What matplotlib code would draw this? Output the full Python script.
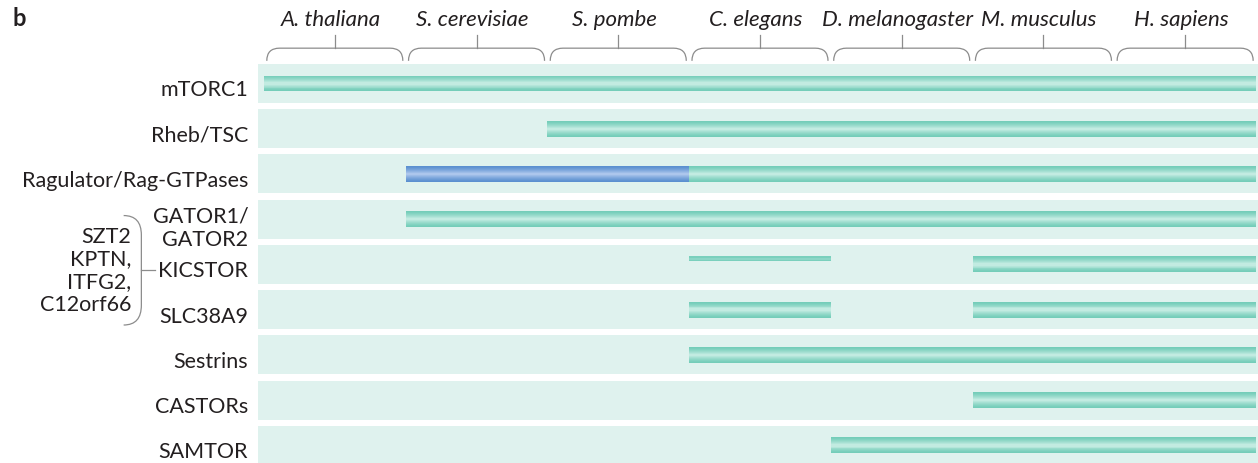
import matplotlib
matplotlib.use('Agg')
import matplotlib.pyplot as plt
import numpy as np
from matplotlib.colors import to_rgb
from matplotlib.path import Path
from matplotlib.patches import PathPatch
from matplotlib.transforms import ScaledTranslation

plt.rcParams['font.family'] = ['Lato', 'DejaVu Sans']

species = ['A. thaliana', 'S. cerevisiae', 'S. pombe', 'C. elegans',
           'D. melanogaster', 'M. musculus', 'H. sapiens']
rows = ['mTORC1', 'Rheb/TSC', 'Ragulator/Rag-GTPases', 'GATOR1/\nGATOR2',
        'KICSTOR', 'SLC38A9', 'Sestrins', 'CASTORs', 'SAMTOR']
# (first species index, last species index + 1, style) for each row
segments = [
    [(0, 7, 'teal')],
    [(2, 7, 'teal')],
    [(1, 3, 'blue'), (3, 7, 'teal')],
    [(1, 7, 'teal')],
    [(3, 4, 'thin'), (5, 7, 'teal')],
    [(3, 4, 'teal'), (5, 7, 'teal')],
    [(3, 7, 'teal')],
    [(5, 7, 'teal')],
    [(4, 7, 'teal')],
]
kicstor_parts = 'SZT2\nKPTN,\nITFG2,\nC12orf66'

band_color = '#dff2ee'
shades = {
    'teal': ('#74cdb9', '#c2ebe1'),
    'thin': ('#7ad0bd', '#a6dfd2'),
    'blue': ('#5b90d0', '#acc6ec'),
}
line_gray = '#8c8c8c'
text_color = '#231f20'
fs = 15.5


def gradient_bar(ax, y, left, width, height, edge, center, n=8):
    # stacked bars, each narrower and lighter, gives a soft tube look
    e, c = np.array(to_rgb(edge)), np.array(to_rgb(center))
    for j in range(n):
        t = j / (n - 1)
        col = e + (c - e) * t ** 1.3
        ax.barh(y, width, left=left, height=height * (1 - 0.85 * t),
                color=col, zorder=2 + j)


fig = plt.figure(figsize=(12.58, 4.63), dpi=100)
ax = fig.add_axes([258 / 1258, 0, 1000 / 1258, 1 - 64 / 463])
ax.set_xlim(-0.042, 7.014)
ax.set_ylim(8.39, -0.43)
for s in ax.spines.values():
    s.set_visible(False)
ax.set_xticks([])

# background bands
ax.barh(range(len(rows)), [7.2] * len(rows), left=-0.1, height=0.86,
        color=band_color, zorder=0)

for i, segs in enumerate(segments):
    for start, end, style in segs:
        edge, center = shades[style]
        if style == 'thin':
            gradient_bar(ax, i - 0.12, start, end - start, 0.11, edge, center, n=3)
        else:
            gradient_bar(ax, i, start, end - start, 0.35, edge, center)

ax.set_yticks(range(len(rows)))
ax.set_yticklabels(rows, fontsize=fs, color=text_color, linespacing=1.25)
ax.tick_params(axis='y', length=0, pad=7)
# row names sit a touch below the band centres
nudge = ScaledTranslation(0, -0.05, fig.dpi_scale_trans)
for lab in ax.get_yticklabels():
    lab.set_transform(lab.get_transform() + nudge)

# species headers with curly brackets
y_low, y_top, y_tick, y_text = -0.50, -0.78, -1.07, -1.40
for k, name in enumerate(species):
    x0, x1 = k + 0.02, k + 0.98
    xm = (x0 + x1) / 2
    r = 0.09
    verts = [(x0, y_low), (x0, y_top), (x0 + r, y_top),
             (x1 - r, y_top), (x1, y_top), (x1, y_low)]
    codes = [Path.MOVETO, Path.CURVE3, Path.CURVE3,
             Path.LINETO, Path.CURVE3, Path.CURVE3]
    ax.add_patch(PathPatch(Path(verts, codes), fill=False, ec=line_gray,
                           lw=0.9, clip_on=False))
    ax.plot([xm, xm], [y_top, y_tick], color=line_gray, lw=0.9, clip_on=False)
    ax.text(xm - 0.03, y_text, name, ha='center', va='center', fontsize=16,
            style='italic', color=text_color, clip_on=False)

# KICSTOR components with a bracket
ax.text(-0.935, 4.14, kicstor_parts, ha='right', va='center', fontsize=fs,
        color=text_color, linespacing=1.17)
bx0, bx1 = -0.99, -0.865
bverts = [(bx0, 2.92), (bx1, 2.92), (bx1, 3.35),
          (bx1, 4.9), (bx1, 5.34), (bx0, 5.34)]
bcodes = [Path.MOVETO, Path.CURVE3, Path.CURVE3,
          Path.LINETO, Path.CURVE3, Path.CURVE3]
ax.add_patch(PathPatch(Path(bverts, bcodes), fill=False, ec=line_gray,
                       lw=0.9, clip_on=False))
ax.plot([bx1, -0.77], [4.13, 4.13], color=line_gray, lw=0.9, clip_on=False)

fig.text(12 / 1258, 1 - 18 / 463, 'b', fontsize=17, fontweight='bold',
         va='center', ha='left', color=text_color)

fig.savefig('out.png', dpi=100)
